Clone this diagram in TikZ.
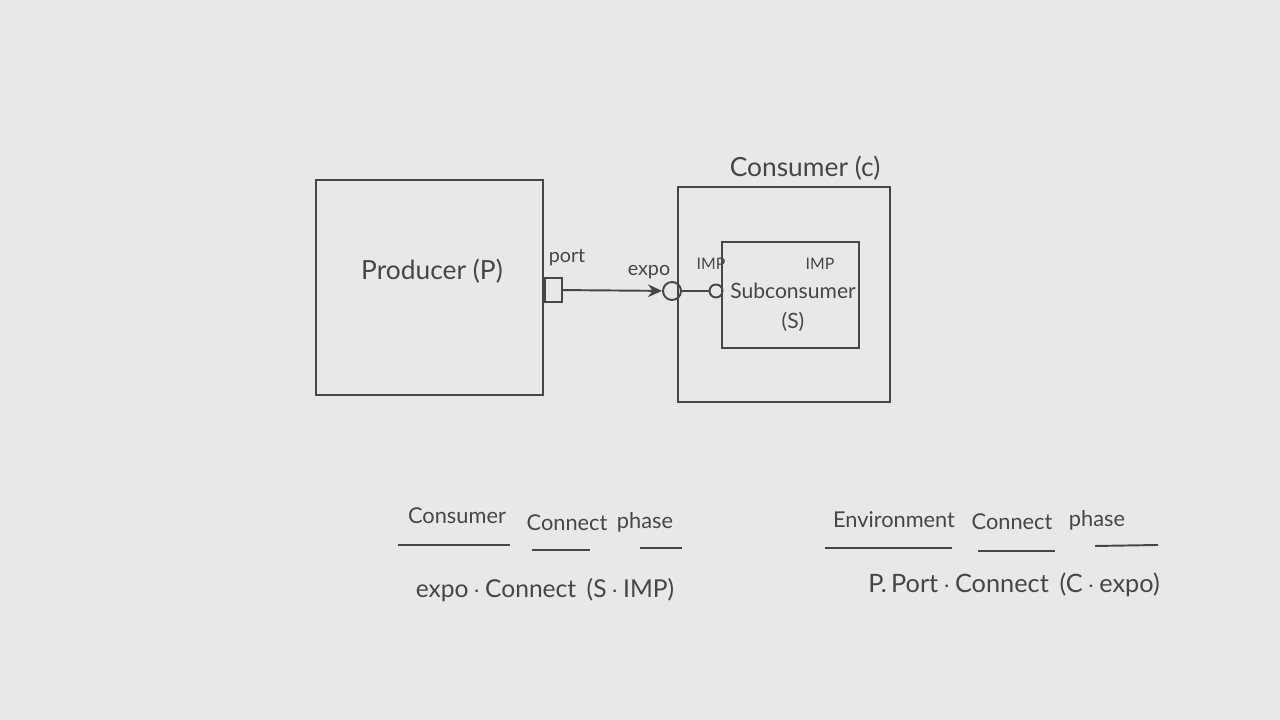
\documentclass[tikz,border=0pt]{standalone}
\usepackage{fontspec}
\setmainfont{Lato}
\usetikzlibrary{arrows.meta}
\definecolor{screen}{RGB}{232,233,230}
\definecolor{ink}{RGB}{70,70,72}
\begin{document}
\begin{tikzpicture}[>={Stealth[length=4pt, width=3.6pt]}, line width=0.55pt, draw=ink, text=ink,
    box/.style={draw=ink, minimum width=#1},
    hand/.style={font=\fontsize{7.5}{9}\selectfont, inner sep=1pt},
    note/.style={font=\fontsize{5.6}{7}\selectfont, inner sep=1pt},
    head/.style={font=\fontsize{6.2}{7}\selectfont, inner sep=1pt},
    tiny/.style={font=\fontsize{4.5}{5}\selectfont, inner sep=1pt}]
    \fill[screen] (0,0) rectangle (12.8,7.2);
    \useasboundingbox (0,0) rectangle (12.8,7.2);
    % the two components
    \node[box=2.27cm, minimum height=2.15cm] (prod) at (4.295,4.325) {};
    \node[hand] (prodlbl) at (4.32,4.49) {Producer (P)};
    \node[box=2.12cm, minimum height=2.15cm] (cons) at (7.84,4.255) {};
    \node[hand] (conslbl) at (8.05,5.52) {Consumer (c)};
    \node[box=1.37cm, minimum height=1.06cm] (sub) at (7.905,4.25) {};
    \node[note, align=center, font=\fontsize{6}{8.5}\selectfont] (sublbl) at (7.93,4.13) {Subconsumer\\(S)};
    % ports
    \node[draw=ink, fill=screen, minimum width=0.17cm, minimum height=0.24cm, inner sep=0pt] (port) at (5.535,4.30) {};
    \node[note] (portlbl) at (5.67,4.62) {port};
    \node[draw=ink, circle, minimum size=0.18cm, inner sep=0pt] (expo) at (6.72,4.29) {};
    \node[note] (expolbl) at (6.49,4.48) {expo};
    \node[draw=ink, circle, minimum size=0.13cm, inner sep=0pt] (imp) at (7.16,4.29) {};
    \node[tiny] (implbl) at (7.11,4.56) {IMP};
    \node[tiny] (subimp) at (8.20,4.56) {IMP};
    \draw[->] (port) -- (expo);
    \draw (expo) -- (imp);
    % consumer connect phase
    \node[head] (cp1) at (4.57,2.04) {Consumer};
    \node[head] (cp2) at (5.67,1.97) {Connect};
    \node[head] (cp3) at (6.45,1.98) {phase};
    \draw (3.98,1.75) -- (5.10,1.75);
    \draw (5.32,1.70) -- (5.90,1.70);
    \draw (6.40,1.72) -- (6.82,1.72);
    \node[hand, font=\fontsize{7}{8}\selectfont] (cpcode) at (5.45,1.30) {expo\,$\cdot$\,Connect\, (S\,$\cdot$\,IMP)};
    % environment connect phase
    \node[head] (ep1) at (8.94,2.00) {Environment};
    \node[head] (ep2) at (10.12,1.98) {Connect};
    \node[head] (ep3) at (10.97,2.00) {phase};
    \draw (8.25,1.72) -- (9.52,1.72);
    \draw (9.78,1.69) -- (10.55,1.69);
    \draw (10.95,1.74) -- (11.58,1.75);
    \node[hand, font=\fontsize{7.2}{8}\selectfont] (epcode) at (10.14,1.35) {P.\,Port\,$\cdot$\,Connect\, (C\,$\cdot$\,expo)};
\end{tikzpicture}
\end{document}
